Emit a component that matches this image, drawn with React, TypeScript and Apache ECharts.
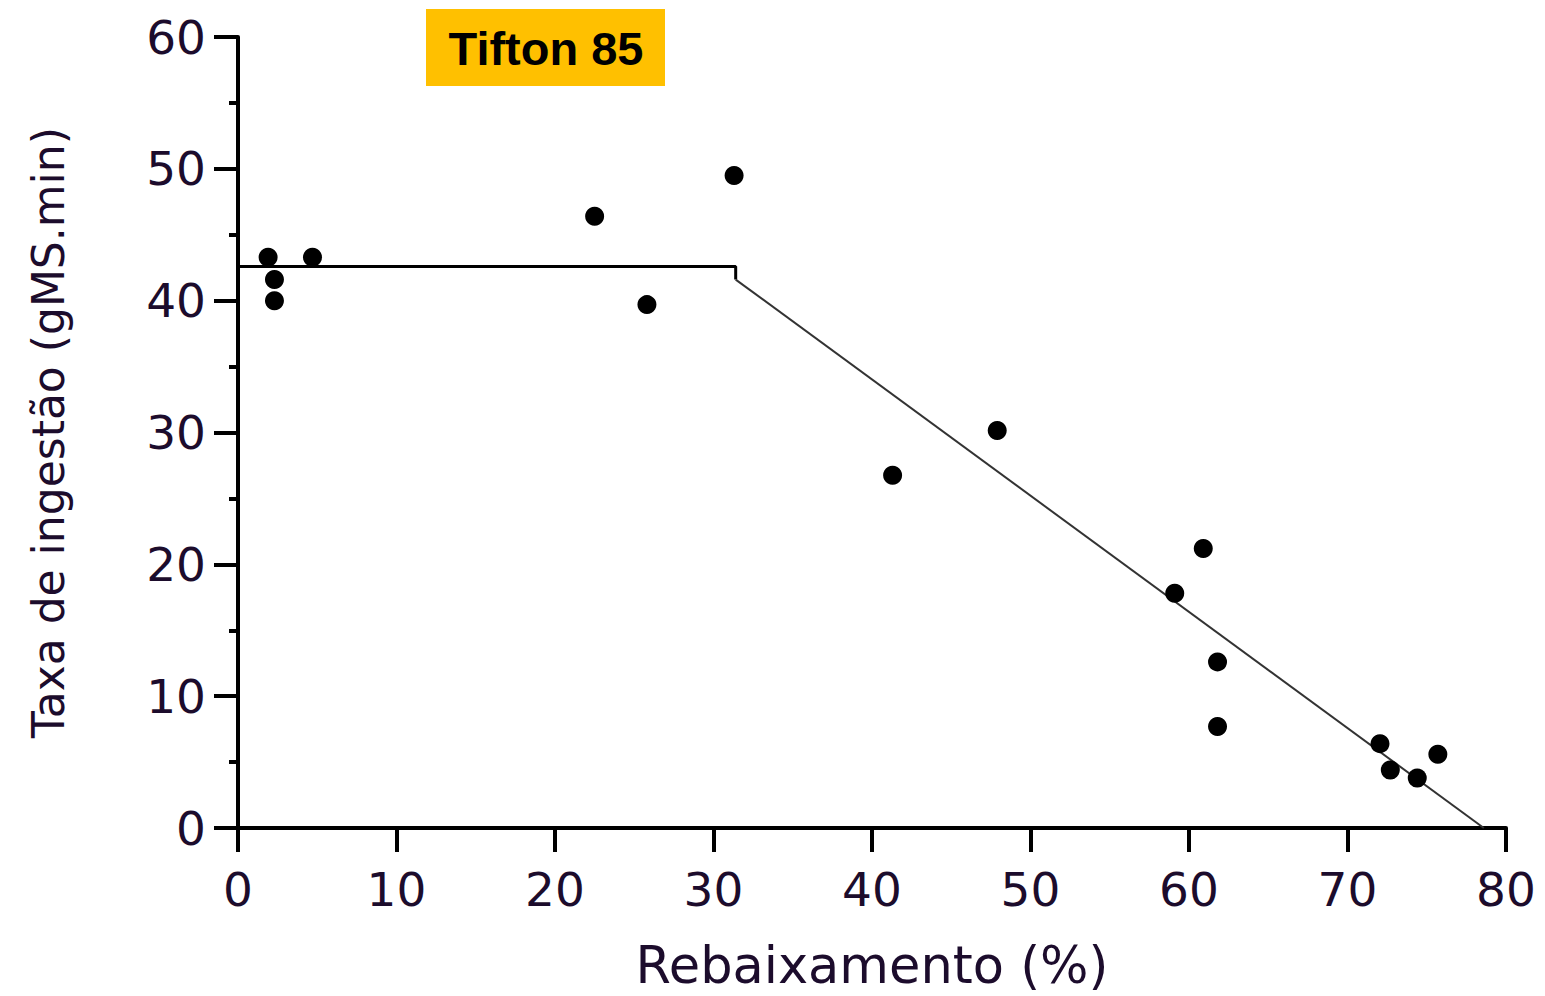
import React, { useEffect, useRef } from "react";
import * as echarts from "echarts";

const points: [number, number][] = [
  [1.9, 43.3],
  [2.3, 41.6],
  [2.3, 40.0],
  [4.7, 43.3],
  [22.5, 46.4],
  [25.8, 39.7],
  [31.3, 49.5],
  [41.3, 26.75],
  [47.9, 30.15],
  [59.1, 17.8],
  [60.9, 21.2],
  [61.8, 12.6],
  [61.8, 7.7],
  [72.05, 6.4],
  [72.7, 4.4],
  [74.4, 3.8],
  [75.7, 5.6],
];

const plateau: [number, number][] = [
  [0, 42.6],
  [31.4, 42.6],
  [31.4, 41.6],
];

const decline: [number, number][] = [
  [31.4, 41.6],
  [78.6, 0],
];

const xTitle = "Rebaixamento (%)";
const yTitle = "Taxa de ingestão (gMS.min)";
const badge = "Tifton 85";

export default function App() {
  const ref = useRef<HTMLDivElement>(null);
  useEffect(() => {
    if (!ref.current) return;
    const chart = echarts.init(ref.current, null, { renderer: "svg" });
    const labelColor = "#1c0c2c";
    chart.setOption({
      animation: false,
      backgroundColor: "#ffffff",
      grid: { left: 238, top: 37, right: 39, bottom: 165, containLabel: false },
      xAxis: {
        type: "value",
        min: 0,
        max: 80,
        interval: 10,
        name: xTitle,
        nameLocation: "middle",
        nameGap: 112,
        nameTextStyle: { fontFamily: "DejaVu Sans", fontSize: 51, color: labelColor },
        axisLine: { show: true, onZero: false, lineStyle: { color: "#000", width: 4 } },
        axisTick: { show: true, length: 24, lineStyle: { color: "#000", width: 4 } },
        axisLabel: { fontFamily: "DejaVu Sans", fontSize: 47, color: labelColor, margin: 38 },
        splitLine: { show: false },
      },
      yAxis: {
        type: "value",
        min: 0,
        max: 60,
        interval: 10,
        name: yTitle,
        nameLocation: "middle",
        nameGap: 168,
        nameRotate: 90,
        nameTextStyle: { fontFamily: "DejaVu Sans", fontSize: 44, color: labelColor },
        axisLine: { show: true, onZero: false, lineStyle: { color: "#000", width: 4 } },
        axisTick: { show: true, length: 24, lineStyle: { color: "#000", width: 4 } },
        minorTick: { show: true, splitNumber: 2, length: 9, lineStyle: { color: "#000", width: 4 } },
        axisLabel: { fontFamily: "DejaVu Sans", fontSize: 47, color: labelColor, margin: 32 },
        splitLine: { show: false },
        minorSplitLine: { show: false },
      },
      graphic: [
        {
          type: "rect",
          shape: { x: 426, y: 9, width: 239, height: 77 },
          style: { fill: "#FFC000" },
        },
        {
          type: "text",
          x: 546,
          y: 48,
          style: {
            text: badge,
            fontFamily: "Liberation Sans",
            fontWeight: "bold",
            fontSize: 47,
            fill: "#000",
            align: "center",
            verticalAlign: "middle",
          },
        },
      ],
      series: [
        {
          type: "line",
          data: plateau,
          symbol: "none",
          lineStyle: { color: "#000", width: 3 },
          z: 2,
        },
        {
          type: "line",
          data: decline,
          symbol: "none",
          lineStyle: { color: "#333", width: 2 },
          z: 2,
        },
        {
          type: "scatter",
          data: points,
          symbol: "circle",
          symbolSize: 19,
          itemStyle: { color: "#000", opacity: 1 },
          z: 3,
        },
      ],
    });
    return () => chart.dispose();
  }, []);
  return (
    <div
      ref={ref}
      style={{ position: "absolute", left: 0, top: 0, width: 1545, height: 996 }}
    />
  );
}
